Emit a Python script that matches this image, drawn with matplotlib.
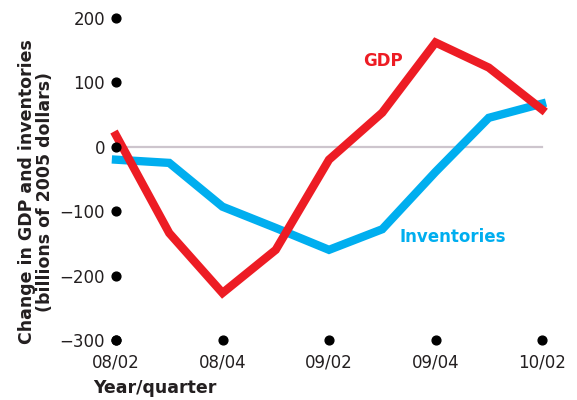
import matplotlib.pyplot as plt

quarters = ["08/02", "08/03", "08/04", "09/01", "09/02", "09/03", "09/04", "10/01", "10/02"]
tick_labels = ["08/02", "", "08/04", "", "09/02", "", "09/04", "", "10/02"]
gdp = [18, -134, -227, -160, -20, 53, 162, 123, 58]
inventories = [-20, -25, -93, -126, -160, -128, -39, 45, 67]
yticks = [-300, -200, -100, 0, 100, 200]

red = "#ED1C24"
blue = "#00AEEF"
txt = "#231F20"

fig = plt.figure(figsize=(5.77, 4.0), dpi=100)
ax = fig.add_axes([116 / 577, 60 / 400, (542 - 116) / 577, 322 / 400])
x = list(range(len(quarters)))

ax.plot([0, 8], [0, 0], color="#CDC5CD", lw=1.6, zorder=1, clip_on=False)
ax.plot(x, inventories, color=blue, lw=6, solid_joinstyle="miter", zorder=2, clip_on=False)
ax.plot(x, gdp, color=red, lw=6, solid_joinstyle="miter", zorder=3, clip_on=False)

# dots standing in for tick marks
ax.scatter([0] * len(yticks), yticks, s=40, color="black", zorder=5, clip_on=False)
xdots = [i for i, t in enumerate(tick_labels) if t]
ax.scatter(xdots, [-300] * len(xdots), s=40, color="black", zorder=5, clip_on=False)

ax.set_xlim(0, 8)
ax.set_ylim(-300, 200)
for s in ax.spines.values():
    s.set_visible(False)
ax.set_xticks(xdots)
ax.set_xticklabels([t for t in tick_labels if t], fontsize=12, color=txt)
ax.set_yticks(yticks)
ax.set_yticklabels([str(v).replace("-", "\u2212") for v in yticks], fontsize=12, color=txt)
ax.tick_params(length=0)
ax.tick_params(axis="x", pad=10)
ax.tick_params(axis="y", pad=8)

ax.text(5.02, 134, "GDP", color=red, fontsize=12, fontweight="bold", ha="center", va="center")
ax.text(6.33, -140, "Inventories", color=blue, fontsize=12, fontweight="bold", ha="center", va="center")

fig.text(36 / 577, 1 - 192 / 400, "Change in GDP and inventories\n(billions of 2005 dollars)",
         rotation=90, ha="center", va="center", fontsize=12.5, fontweight="bold", color=txt,
         linespacing=1.0)
fig.text(93 / 577, 1 - 388 / 400, "Year/quarter", ha="left", va="center",
         fontsize=12.5, fontweight="bold", color=txt)

fig.savefig("out.png", dpi=100)
